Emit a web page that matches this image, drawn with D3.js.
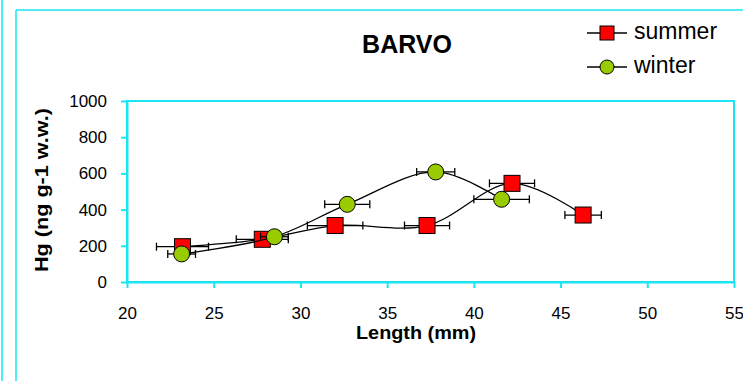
<!DOCTYPE html>
<html>
<head>
<meta charset=utf-8>
<title>BARVO</title>
<script src="https://cdn.jsdelivr.net/npm/d3@7"></script>
<style>
body{margin:0; background:#fff;}
svg{font-family: "Liberation Sans", Arial, sans-serif;}
.frame{fill:none; stroke:#19e6f2; stroke-width:2;}
.axis path, .axis line{stroke:#19e6f2; stroke-width:2;}
.axis text{font-size:17px; fill:#000;}
.curve{fill:none; stroke:#000; stroke-width:1.3;}
.err line{stroke:#000; stroke-width:1.3;}
</style>
</head>
<body>
<svg id=chart width=743 height=381></svg>
<script>
// data
var summerLength = [23.2, 27.8, 32.0, 37.3, 42.2, 46.3];
var summerHg     = [195, 236, 312, 312, 545, 370];
var summerErr    = [1.5, 1.5, 1.6, 1.3, 1.3, 1.05];

var winterLength = [23.15, 28.5, 32.7, 37.8, 41.6];
var winterHg     = [155, 250, 429, 608, 457];
var winterErr    = [0.8, 0.8, 1.3, 1.1, 1.6];

var xTicks = [20, 25, 30, 35, 40, 45, 50, 55];
var yTicks = [0, 200, 400, 600, 800, 1000];

var svg = d3.select('#chart');

//outer chart-area borders
svg.append('line').attr('x1', 2).attr('x2', 2).attr('y1', 0).attr('y2', 381)
    .attr('stroke', '#19e6f2').attr('stroke-width', 1.5);
svg.append('line').attr('x1', 16).attr('x2', 16).attr('y1', 10).attr('y2', 381)
    .attr('stroke', '#19e6f2').attr('stroke-width', 1.5);
svg.append('line').attr('x1', 16).attr('x2', 743).attr('y1', 10).attr('y2', 10)
    .attr('stroke', '#19e6f2').attr('stroke-width', 1.5);

//plot area
var plot = {left: 127, right: 734, top: 101, bottom: 282};
var x = d3.scaleLinear().domain([20, 55]).range([plot.left, plot.right]);
var y = d3.scaleLinear().domain([0, 1000]).range([plot.bottom, plot.top]);

svg.append('rect')
    .attr('class', 'frame')
    .attr('x', plot.left).attr('y', plot.top)
    .attr('width', plot.right - plot.left).attr('height', plot.bottom - plot.top);

svg.append('g')
    .attr('class', 'axis')
    .attr('transform', 'translate(0,' + plot.bottom + ')')
    .call(d3.axisBottom(x).tickValues(xTicks).tickFormat(d3.format('d'))
            .tickSize(6).tickSizeOuter(0).tickPadding(19));

svg.append('g')
    .attr('class', 'axis')
    .attr('transform', 'translate(' + plot.left + ',0)')
    .call(d3.axisLeft(y).tickValues(yTicks).tickFormat(d3.format('d'))
            .tickSize(6).tickSizeOuter(0).tickPadding(14));

//titles
svg.append('text')
    .attr('x', 407).attr('y', 53)
    .attr('text-anchor', 'middle')
    .attr('font-size', 25).attr('font-weight', 'bold')
    .text('BARVO');

svg.append('text')
    .attr('x', 416).attr('y', 339)
    .attr('text-anchor', 'middle')
    .attr('font-size', 18).attr('font-weight', 'bold')
    .attr('textLength', 120).attr('lengthAdjust', 'spacingAndGlyphs')
    .text('Length (mm)');

svg.append('text')
    .attr('transform', 'translate(47.5,190) rotate(-90)')
    .attr('text-anchor', 'middle')
    .attr('font-size', 17.5).attr('font-weight', 'bold')
    .attr('textLength', 164).attr('lengthAdjust', 'spacingAndGlyphs')
    .text('Hg (ng g-1 w.w.)');

var line = d3.line()
    .x(d => x(d.len))
    .y(d => y(d.hg))
    .curve(d3.curveCatmullRom.alpha(0.5));

function build(lens, hgs, errs){
  return lens.map((l, i) => ({len: l, hg: hgs[i], err: errs[i]}));
}

var series = [
  {name: 'summer', shape: 'square', fill: '#ff0000', data: build(summerLength, summerHg, summerErr)},
  {name: 'winter', shape: 'circle', fill: '#99cc00', data: build(winterLength, winterHg, winterErr)}
];

function marker(g, shape, fill, cx, cy, size){
  if(shape === 'square'){
    g.append('rect')
        .attr('x', cx - size/2).attr('y', cy - size/2)
        .attr('width', size).attr('height', size)
        .attr('fill', fill).attr('stroke', '#000').attr('stroke-width', 1);
  } else {
    g.append('circle')
        .attr('cx', cx).attr('cy', cy).attr('r', size/2)
        .attr('fill', fill).attr('stroke', '#000').attr('stroke-width', 1);
  }
}

series.forEach(s => {
  var g = svg.append('g');
  g.append('path').datum(s.data).attr('class', 'curve').attr('d', line);

  var err = g.append('g').attr('class', 'err');
  s.data.forEach(d => {
    var cy = y(d.hg);
    err.append('line').attr('x1', x(d.len - d.err)).attr('x2', x(d.len + d.err)).attr('y1', cy).attr('y2', cy);
    [d.len - d.err, d.len + d.err].forEach(v => {
      err.append('line').attr('x1', x(v)).attr('x2', x(v)).attr('y1', cy - 4).attr('y2', cy + 4);
    });
  });

  s.data.forEach(d => marker(g, s.shape, s.fill, x(d.len), y(d.hg), 16));
});

//legend
series.forEach((s, i) => {
  var ly = 33 + i * 34;
  var g = svg.append('g');
  g.append('line').attr('x1', 587).attr('x2', 627).attr('y1', ly).attr('y2', ly)
      .attr('stroke', '#000').attr('stroke-width', 1.3);
  marker(g, s.shape, s.fill, 607, ly, 14);
  g.append('text').attr('x', 634).attr('y', ly + 6)
      .attr('font-size', 23).text(s.name);
});
</script>
</body>
</html>
